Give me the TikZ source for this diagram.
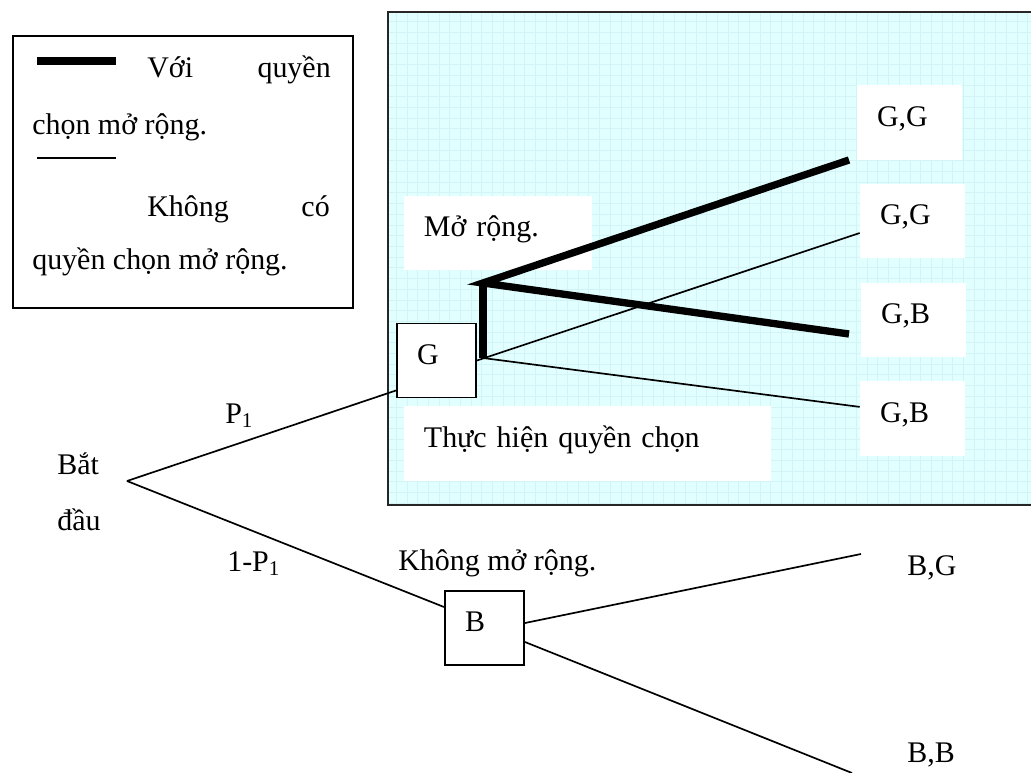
\documentclass[tikz,border=0pt]{standalone}
\usepackage{fontspec}
\setmainfont{Liberation Serif}
\usetikzlibrary{positioning}
\definecolor{paneFill}{RGB}{226,255,255}
\definecolor{paneGrid}{RGB}{210,244,247}

\begin{document}
\begin{tikzpicture}[
    x=0.025cm, y=-0.025cm,
    font=\fontsize{21.3}{25}\selectfont,
    word/.style={inner sep=0pt, anchor=base west},
    pad/.style={fill=white, inner xsep=0.5cm, inner ysep=0pt, align=left, minimum height=1.85cm, text height=0.68em, text depth=0.12em},
    nodebox/.style={pad, draw, line width=1.4pt, text width=0.975cm},
    branch/.style={line width=1.2pt},
    optline/.style={line width=5.2pt}
]
\useasboundingbox (0,0) rectangle (1031,773);
\clip (0,0) rectangle (1031,773);

% legend
\node[draw, line width=1.4pt, anchor=north west, minimum width=8.5cm, minimum height=6.8cm, inner sep=0pt] (legend) at (12,35) {};
\draw[line width=5pt] (37,61) -- (116,61);
\draw[branch] (37,158) -- (116,158);
\node[word] (leg1a) at (147,78) {Với};
\node[word, anchor=base east] (leg1b) at (331,78) {quyền};
\node[word] (leg1c) at (32,135) {chọn mở rộng.};
\node[word] (leg2a) at (147,217) {Không};
\node[word, anchor=base east] (leg2b) at (330,217) {có};
\node[word] (leg2c) at (32,270) {quyền chọn mở rộng.};

% shaded option area
\fill[paneFill] (388,12) rectangle (1045,505);
\draw[paneGrid, line width=0.25pt, step=0.2675cm] (388,505) grid (1045,12);
\draw[line width=1.4pt, black!85] (388,12) rectangle (1045,505);

\node[pad, text width=3.7cm] (expand) at (498,233) {Mở rộng.};
\node[pad, text width=8.175cm] (exercise) at (587.5,443.5) {Thực hiện quyền chọn};
\node[pad, text width=1.625cm] (gg1) at (909.5,122.5) {G,G};
\node[pad, text width=1.625cm] (gg2) at (912.5,221) {G,G};
\node[pad, text width=1.625cm] (gb1) at (913.5,320) {G,B};
\node[pad, text width=1.625cm] (gb2) at (912.5,418.5) {G,B};

% decision tree
\coordinate (root) at (127,481);
\node[word] (start1) at (57,474) {Bắt};
\node[word] (start2) at (57,530) {đầu};
\node[nodebox] (G) at (436.5,360.5) {G};
\node[nodebox] (B) at (484.5,628) {B};
\node[word] (p1) at (225,423) {P\textsubscript{1}};
\node[word] (p2) at (227,571) {1-P\textsubscript{1}};
\node[word] (noexp) at (398,570) {Không mở rộng.};
\node[word] (bg) at (907,575) {B,G};
\node[word] (bb) at (907,762) {B,B};

\coordinate (knot) at (483,283);
\coordinate (stem) at (483,358);
\coordinate (gg1tip) at (849,160);
\coordinate (gb1tip) at (849,334);
\coordinate (bgtip) at (861,554);
\coordinate (bbtip) at (852,773);

\draw[branch] (root) -- ([yshift=0.2cm]G.south west);
\draw[branch] (root) -- ([yshift=-0.425cm]B.north west);
\draw[branch] (G.east) -- ([yshift=-0.3cm]gg2.west);
\draw[branch] (stem) -- ([yshift=0.29cm]gb2.west);
\draw[optline] (gg1tip) -- (knot) -- (gb1tip);
\draw[optline] (knot) -- (stem);
\draw[branch] ([yshift=0.125cm]B.east) -- (bgtip);
\draw[branch] ([yshift=-0.35cm]B.east) -- (bbtip);
\end{tikzpicture}
\end{document}
